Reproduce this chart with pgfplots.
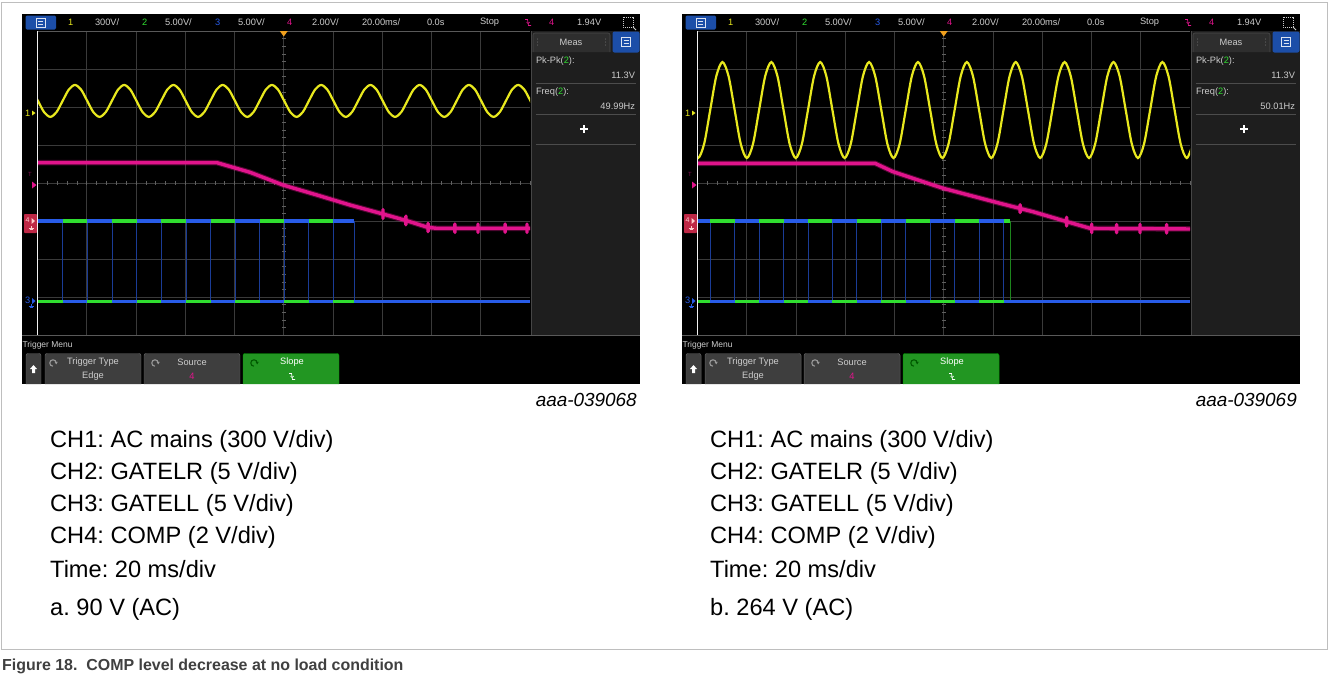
\documentclass[border=0pt]{standalone}
\usepackage{fontspec}
\setmainfont{Liberation Sans}
\usepackage{pgfplots}
\usepackage{pgfplotstable}
\pgfplotsset{compat=1.18}
\frenchspacing
\definecolor{yellowc}{RGB}{232,232,30}
\definecolor{greenc}{RGB}{48,222,48}
\definecolor{bluec}{RGB}{40,92,232}
\definecolor{magc}{RGB}{225,20,140}
\definecolor{gridc}{RGB}{58,58,58}
\definecolor{tickc}{RGB}{95,95,95}
\definecolor{panelc}{RGB}{30,30,30}
\definecolor{uigray}{RGB}{205,205,205}
\definecolor{iconblue}{RGB}{28,78,168}
\definecolor{btngray}{RGB}{62,62,62}
\definecolor{btnedge}{RGB}{100,100,100}
\definecolor{btngreen}{RGB}{34,150,34}
\definecolor{orangec}{RGB}{240,160,30}
\definecolor{redbox}{RGB}{190,40,70}
\definecolor{framec}{RGB}{190,190,190}
\definecolor{capc}{RGB}{64,64,64}
\tikzset{ui/.style={inner sep=0pt, outer sep=0pt, font=\fontsize{9.3}{10}\selectfont, text=uigray}}

% ---------- data ----------
\pgfplotstableread{
t v
0 -3.12
10.2 -3.12
10.2 nan
10.2 -1
20.3 -1
20.3 nan
20.3 -3.12
30.3 -3.12
30.3 nan
30.3 -1
40.3 -1
40.3 nan
40.3 -3.12
50.2 -3.12
50.2 nan
50.2 -1
60.3 -1
60.3 nan
60.3 -3.12
70.3 -3.12
70.3 nan
70.3 -1
80.4 -1
80.4 nan
80.4 -3.12
90.3 -3.12
90.3 nan
90.3 -1
100.2 -1
100.2 nan
100.2 -3.12
110.1 -3.12
110.1 nan
110.1 -1
120.1 -1
120.1 nan
120.1 -3.12
200 -3.12
}\AGreen
\pgfplotstableread{
t v
0 -1
10.2 -1
10.2 nan
10.2 -3.12
20.3 -3.12
20.3 nan
20.3 -1
30.3 -1
30.3 nan
30.3 -3.12
40.3 -3.12
40.3 nan
40.3 -1
50.2 -1
50.2 nan
50.2 -3.12
60.3 -3.12
60.3 nan
60.3 -1
70.3 -1
70.3 nan
70.3 -3.12
80.4 -3.12
80.4 nan
80.4 -1
90.3 -1
90.3 nan
90.3 -3.12
100.2 -3.12
100.2 nan
100.2 -1
110.1 -1
110.1 nan
110.1 -3.12
120.1 -3.12
120.1 nan
120.1 -1
128.5 -1
128.5 nan
128.5 -3.12
200 -3.12
}\ABlue
\pgfplotstableread{
t v
0 -3.12
5.16 -3.12
5.16 nan
5.16 -1
15.09 -1
15.09 nan
15.09 -3.12
25.01 -3.12
25.01 nan
25.01 -1
34.94 -1
34.94 nan
34.94 -3.12
44.86 -3.12
44.86 nan
44.86 -1
54.79 -1
54.79 nan
54.79 -3.12
64.71 -3.12
64.71 nan
64.71 -1
74.64 -1
74.64 nan
74.64 -3.12
84.56 -3.12
84.56 nan
84.56 -1
94.49 -1
94.49 nan
94.49 -3.12
104.41 -3.12
104.41 nan
104.41 -1
114.34 -1
114.34 nan
114.34 -3.12
124.26 -3.12
124.26 nan
124.26 -1
127.0 -1
127.0 nan
127.0 -3.12
200 -3.12
}\BGreen
\pgfplotstableread{
t v
0 -1
5.16 -1
5.16 nan
5.16 -3.12
15.09 -3.12
15.09 nan
15.09 -1
25.01 -1
25.01 nan
25.01 -3.12
34.94 -3.12
34.94 nan
34.94 -1
44.86 -1
44.86 nan
44.86 -3.12
54.79 -3.12
54.79 nan
54.79 -1
64.71 -1
64.71 nan
64.71 -3.12
74.64 -3.12
74.64 nan
74.64 -1
84.56 -1
84.56 nan
84.56 -3.12
94.49 -3.12
94.49 nan
94.49 -1
104.41 -1
104.41 nan
104.41 -3.12
114.34 -3.12
114.34 nan
114.34 -1
124.26 -1
124.26 nan
124.26 -3.12
200 -3.12
}\BBlue

% ---------- scope chrome ----------
\newcommand\slopesym[3]{% x y color
  \draw[#3, line width=0.7] ({#1-3},{#2-3}) -- ({#1-0.5},{#2-3}) -- ({#1+0.5},{#2+3}) -- ({#1+3},{#2+3});
  \draw[#3, line width=0.6] ({#1-1.5},{#2-0.5}) -- ({#1},{#2+1}) -- ({#1+1.8},{#2-0.5});
}
\newcommand\circarrow[3]{% x y color
  \draw[#3, line width=1.1] ({#1+3.2},{#2}) arc[start angle=0, end angle=-270, radius=3.2];
  \fill[#3] ({#1+1.6},{#2-1.2}) -- ({#1+4.8},{#2-1.2}) -- ({#1+3.2},{#2+1.4}) -- cycle;
}
\newcommand\menuicon[2]{% center x y
  \draw[white!85!iconblue, line width=0.7] ({#1-4.5},{#2-4.5}) rectangle ({#1+4.5},{#2+4.5});
  \draw[white!85!iconblue, line width=0.6] ({#1-2.5},{#2-1.3}) -- ({#1+2.5},{#2-1.3}) ({#1-2.5},{#2+1.3}) -- ({#1+2.5},{#2+1.3});
}
\newcommand\scopechrome[2]{%
\begin{scope}[shift={(#1,0)}]
  \fill[black] (22,14) rectangle (640,384);
  % top bar
  \fill[iconblue, rounded corners=1.5] (25.5,15.5) rectangle (56,29.5);
  \menuicon{40.75}{22.5}
  \node[ui, anchor=west, text=yellowc] at (68,22.5) {1};
  \node[ui, anchor=west] at (95,22.5) {300V/};
  \node[ui, anchor=west, text=greenc] at (142,22.5) {2};
  \node[ui, anchor=west] at (165,22.5) {5.00V/};
  \node[ui, anchor=west, text=bluec] at (215,22.5) {3};
  \node[ui, anchor=west] at (238,22.5) {5.00V/};
  \node[ui, anchor=west, text=magc] at (287,22.5) {4};
  \node[ui, anchor=west] at (312,22.5) {2.00V/};
  \node[ui, anchor=west] at (362,22.5) {20.00ms/};
  \node[ui, anchor=west] at (427,22.5) {0.0s};
  \node[ui, anchor=west] at (480,22.5) {Stop};
  \slopesym{528}{22.5}{magc}
  \node[ui, anchor=west, text=magc] at (549,22.5) {4};
  \node[ui, anchor=west] at (577,22.5) {1.94V};
  \draw[uigray, line width=0.6, dash pattern=on 1pt off 1pt] (623,17) rectangle (633,27);
  \draw[uigray, line width=0.8] (633,27) -- (636,30);
  % grid
  \foreach \i in {1,...,9} \draw[gridc, line width=0.7] ({37.5+49.25*\i},31) -- ({37.5+49.25*\i},335);
  \foreach \j in {1,...,7} \draw[gridc, line width=0.7] (37.5,{31+38*\j}) -- (530,{31+38*\j});
  \foreach \k in {0,...,50} \draw[tickc, line width=0.6] ({37.5+9.85*\k},181) -- ({37.5+9.85*\k},185);
  \foreach \k in {0,...,40} \draw[tickc, line width=0.6] (281.75,{31+7.6*\k}) -- (285.75,{31+7.6*\k});
  \draw[gray!70!black, line width=0.8] (37.5,31) -- (530,31);
  \draw[gray!70!black, line width=0.8] (22,335.5) -- (640,335.5);
  % right panel
  \fill[panelc] (531.5,31) rectangle (640,335);
  \draw[gray!55!black, line width=0.8] (531.5,31) -- (531.5,335);
  \filldraw[fill=black!82, draw=gray!60!black, line width=0.6, rounded corners=2] (533,52) -- (533,33) -- (610,33) -- (610,52);
  \node[ui] at (571,42.5) {Meas};
  \foreach \yy in {39,42,45} {\fill[gray] (537.5,\yy) circle (0.5); \fill[gray] (605.5,\yy) circle (0.5);}
  \fill[iconblue, rounded corners=2] (612.5,31.5) rectangle (639.5,52.5);
  \menuicon{626}{42}
  \node[ui, anchor=west] at (536,61) {Pk-Pk(\textcolor{greenc}{2}):};
  \node[ui, anchor=east] at (635,75) {11.3V};
  \draw[gray!60!black, line width=0.6] (536,83) -- (636,83);
  \node[ui, anchor=west] at (536,92) {Freq(\textcolor{greenc}{2}):};
  \node[ui, anchor=east] at (635,106.5) {#2};
  \draw[gray!60!black, line width=0.6] (536,114) -- (636,114);
  \draw[white, line width=1.8] (580,129) -- (588,129) (584,125) -- (584,133);
  \draw[gray!60!black, line width=0.6] (536,144) -- (636,144);
  % channel markers
  \node[ui, anchor=west, text=yellowc] at (25,113) {1};
  \fill[yellowc] (32,110.5) -- (35.5,113) -- (32,115.5) -- cycle;
  \node[ui, anchor=west, text=magc!60!black, font=\fontsize{6}{7}\selectfont] at (28,174) {T};
  \fill[magc] (32,181.5) -- (36.5,185) -- (32,188.5) -- cycle;
  \fill[redbox, rounded corners=1] (24,214) rectangle (37,233);
  \node[ui, anchor=west, text=pink!80!white, font=\fontsize{7}{8}\selectfont] at (25.5,220) {4};
  \fill[pink!80!white] (31.5,218) -- (35,221) -- (31.5,224) -- cycle;
  \draw[pink!80!white, line width=0.5] (31,226) -- (31,228) (28.5,228) -- (33.5,228) (29.5,229.5) -- (32.5,229.5);
  \node[ui, anchor=west, text=bluec] at (25,300) {3};
  \fill[bluec] (32,298) -- (35.5,301) -- (32,304) -- cycle;
  \draw[bluec, line width=0.5] (31,304) -- (31,306) (28.5,306) -- (33.5,306) (29.5,307.5) -- (32.5,307.5);
  % bottom menu
  \node[ui, anchor=west, font=\fontsize{8.5}{10}\selectfont] at (22.5,345.5) {Trigger Menu};
  \filldraw[fill=btngray, draw=btnedge, line width=0.5, rounded corners=2] (26,384) -- (26,353.5) -- (41,353.5) -- (41,384);
  \fill[white] (33.5,365) -- (37,369) -- (35,369) -- (35,373) -- (32,373) -- (32,369) -- (30,369) -- cycle;
  \filldraw[fill=btngray, draw=btnedge, line width=0.5, rounded corners=2] (45,384) -- (45,353.5) -- (141,353.5) -- (141,384);
  \circarrow{53}{363}{gray!80!white}
  \node[ui] at (93,362.5) {Trigger Type};
  \node[ui] at (93,376.5) {Edge};
  \filldraw[fill=btngray, draw=btnedge, line width=0.5, rounded corners=2] (144,384) -- (144,353.5) -- (240,353.5) -- (240,384);
  \circarrow{155}{363}{gray!80!white}
  \node[ui] at (192,362.5) {Source};
  \node[ui, text=magc] at (192,376.5) {4};
  \filldraw[fill=btngreen, draw=green!60!black, line width=0.5, rounded corners=2] (243,384) -- (243,353.5) -- (339,353.5) -- (339,384);
  \circarrow{254}{363}{green!35!black}
  \node[ui, text=white] at (292,362.5) {Slope};
  \slopesym{292}{376.5}{white}
\end{scope}}

\newcommand\scopeover[1]{%
\begin{scope}[shift={(#1,0)}]
  \draw[white!90!gray, line width=1] (37.5,31) -- (37.5,335);
  \fill[orangec] (279.75,31) -- (287.75,31) -- (283.75,36.5) -- cycle;
\end{scope}}

\begin{document}
\begin{tikzpicture}
\path[use as bounding box] (0,0) rectangle (1328bp,-684bp);
\fill[white] (0,0) rectangle (1328bp,-684bp);
\begin{scope}[x=1bp,y=-1bp]
  \draw[framec, line width=1] (1,2.5) -- (1327,2.5) -- (1327,649) -- (1,649) -- cycle;
  \scopechrome{0}{49.99Hz}
  \scopechrome{660}{50.01Hz}
  % texts
  \node[anchor=east, inner sep=0pt, font=\fontsize{19}{20}\selectfont\itshape] at (637,400) {aaa-039068};
  \node[anchor=east, inner sep=0pt, font=\fontsize{19}{20}\selectfont\itshape] at (1297,400) {aaa-039069};
  \foreach \xx/\lab in {50/{a. 90 V (AC)}, 710/{b. 264 V (AC)}} {
    \node[anchor=west, inner sep=0pt, font=\fontsize{23.7}{26}\selectfont] at (\xx,441) {CH1: AC mains (300 V/div)};
    \node[anchor=west, inner sep=0pt, font=\fontsize{23.7}{26}\selectfont] at (\xx,473) {CH2: GATELR (5 V/div)};
    \node[anchor=west, inner sep=0pt, font=\fontsize{23.7}{26}\selectfont] at (\xx,505) {CH3: GATELL (5 V/div)};
    \node[anchor=west, inner sep=0pt, font=\fontsize{23.7}{26}\selectfont] at (\xx,537) {CH4: COMP (2 V/div)};
    \node[anchor=west, inner sep=0pt, font=\fontsize{23.7}{26}\selectfont] at (\xx,569) {Time: 20 ms/div};
    \node[anchor=west, inner sep=0pt, font=\fontsize{23.7}{26}\selectfont] at (\xx,609) {\lab};
  }
  \node[anchor=west, inner sep=0pt, text=capc, font=\fontsize{16}{19}\selectfont\bfseries] at (2,666) {Figure 18.\ \ COMP level decrease at no load condition};
\end{scope}

% ---------- scope 1 data ----------
\begin{axis}[at={(37.5bp,-335bp)}, anchor=south west, scale only axis, width=492.5bp, height=304bp,
  xmin=0, xmax=200, ymin=-4, ymax=4, hide axis, clip=true]
\addplot[yellowc, line width=2.2bp, smooth] coordinates {
(-2.3,2.457)
(0.2,2.16) (2.7,1.863) (5.2,1.74) (7.7,1.863) (10.2,2.16) (12.7,2.457) (15.2,2.58) (17.7,2.457)
(20.2,2.16) (22.7,1.863) (25.2,1.74) (27.7,1.863) (30.2,2.16) (32.7,2.457) (35.2,2.58) (37.7,2.457)
(40.2,2.16) (42.7,1.863) (45.2,1.74) (47.7,1.863) (50.2,2.16) (52.7,2.457) (55.2,2.58) (57.7,2.457)
(60.2,2.16) (62.7,1.863) (65.2,1.74) (67.7,1.863) (70.2,2.16) (72.7,2.457) (75.2,2.58) (77.7,2.457)
(80.2,2.16) (82.7,1.863) (85.2,1.74) (87.7,1.863) (90.2,2.16) (92.7,2.457) (95.2,2.58) (97.7,2.457)
(100.2,2.16) (102.7,1.863) (105.2,1.74) (107.7,1.863) (110.2,2.16) (112.7,2.457) (115.2,2.58) (117.7,2.457)
(120.2,2.16) (122.7,1.863) (125.2,1.74) (127.7,1.863) (130.2,2.16) (132.7,2.457) (135.2,2.58) (137.7,2.457)
(140.2,2.16) (142.7,1.863) (145.2,1.74) (147.7,1.863) (150.2,2.16) (152.7,2.457) (155.2,2.58) (157.7,2.457)
(160.2,2.16) (162.7,1.863) (165.2,1.74) (167.7,1.863) (170.2,2.16) (172.7,2.457) (175.2,2.58) (177.7,2.457)
(180.2,2.16) (182.7,1.863) (185.2,1.74) (187.7,1.863) (190.2,2.16) (192.7,2.457) (195.2,2.58) (197.7,2.457)
(200.2,2.16) (202.7,1.863)};
\addplot[magc, opacity=0.35, line width=5.5bp, line join=round] coordinates {
(0,0.534) (72.9,0.534) (86.3,0.282) (99.7,-0.053) (113.5,-0.316) (126.9,-0.579) (140.3,-0.816) (151.3,-1.018) (158.6,-1.17) (162.2,-1.192) (200,-1.192)};
\addplot[magc, line width=3.4bp, line join=round] coordinates {
(0,0.534) (72.9,0.534) (86.3,0.282) (99.7,-0.053) (113.5,-0.316) (126.9,-0.579)
(140.3,-0.816) (140.3,-0.70) (140.3,-0.93) (140.3,-0.816)
(149.6,-0.985) (149.6,-0.87) (149.6,-1.10) (149.6,-0.985)
(158.6,-1.17) (158.6,-1.06) (158.6,-1.28) (158.6,-1.17)
(162.2,-1.192)
(169.5,-1.192) (169.5,-1.08) (169.5,-1.30) (169.5,-1.192)
(178.9,-1.192) (178.9,-1.08) (178.9,-1.30) (178.9,-1.192)
(189.9,-1.192) (189.9,-1.08) (189.9,-1.30) (189.9,-1.192)
(198.8,-1.192) (198.8,-1.08) (198.8,-1.30) (198.8,-1.192)
(200,-1.192)};
\addplot[greenc!60!black, line width=0.8bp, unbounded coords=discard] table[x=t,y=v] {\AGreen};
\addplot[bluec!65!black, line width=0.8bp, unbounded coords=discard] table[x=t,y=v] {\ABlue};
\addplot[greenc, line width=3.8bp, unbounded coords=jump] table[x=t,y=v] {\AGreen};
\addplot[bluec, line width=3.8bp, unbounded coords=jump] table[x=t,y=v] {\ABlue};
\end{axis}

% ---------- scope 2 data ----------
\begin{axis}[at={(697.5bp,-335bp)}, anchor=south west, scale only axis, width=492.5bp, height=304bp,
  xmin=0, xmax=200, ymin=-4, ymax=4, hide axis, clip=true]
\addplot[magc, opacity=0.35, line width=5.5bp, line join=round] coordinates {
(0,0.518) (72.1,0.518) (79.4,0.297) (99.7,-0.139) (122.8,-0.534) (136.2,-0.755) (150,-1.018) (159.4,-1.192) (200,-1.21)};
\addplot[magc, line width=3.4bp, line join=round] coordinates {
(0,0.518) (72.1,0.518) (79.4,0.297) (99.7,-0.139) (122.8,-0.534)
(131.0,-0.67) (131.0,-0.57) (131.0,-0.78) (131.0,-0.67)
(136.2,-0.755)
(149.9,-1.016) (149.9,-0.90) (149.9,-1.13) (149.9,-1.016)
(159.4,-1.192)
(160.1,-1.195) (160.1,-1.08) (160.1,-1.31) (160.1,-1.195)
(170.2,-1.20) (170.2,-1.09) (170.2,-1.31) (170.2,-1.20)
(179.7,-1.20) (179.7,-1.09) (179.7,-1.31) (179.7,-1.20)
(190.5,-1.205) (190.5,-1.09) (190.5,-1.32) (190.5,-1.205)
(200,-1.21)};
\addplot[yellowc, line width=2.2bp, smooth] coordinates {
(-2.28,1.027)
(0.2,0.657) (2.68,1.027) (5.16,1.92) (7.64,2.813) (10.13,3.183) (12.61,2.813) (15.09,1.92) (17.57,1.027)
(20.05,0.657) (22.53,1.027) (25.01,1.92) (27.49,2.813) (29.98,3.183) (32.46,2.813) (34.94,1.92) (37.42,1.027)
(39.9,0.657) (42.38,1.027) (44.86,1.92) (47.34,2.813) (49.83,3.183) (52.31,2.813) (54.79,1.92) (57.27,1.027)
(59.75,0.657) (62.23,1.027) (64.71,1.92) (67.19,2.813) (69.68,3.183) (72.16,2.813) (74.64,1.92) (77.12,1.027)
(79.6,0.657) (82.08,1.027) (84.56,1.92) (87.04,2.813) (89.53,3.183) (92.01,2.813) (94.49,1.92) (96.97,1.027)
(99.45,0.657) (101.93,1.027) (104.41,1.92) (106.89,2.813) (109.38,3.183) (111.86,2.813) (114.34,1.92) (116.82,1.027)
(119.3,0.657) (121.78,1.027) (124.26,1.92) (126.74,2.813) (129.23,3.183) (131.71,2.813) (134.19,1.92) (136.67,1.027)
(139.15,0.657) (141.63,1.027) (144.11,1.92) (146.59,2.813) (149.08,3.183) (151.56,2.813) (154.04,1.92) (156.52,1.027)
(159.0,0.657) (161.48,1.027) (163.96,1.92) (166.44,2.813) (168.93,3.183) (171.41,2.813) (173.89,1.92) (176.37,1.027)
(178.85,0.657) (181.33,1.027) (183.81,1.92) (186.29,2.813) (188.78,3.183) (191.26,2.813) (193.74,1.92) (196.22,1.027)
(198.7,0.657) (201.18,1.027)};
\addplot[greenc!60!black, line width=0.8bp, unbounded coords=discard] table[x=t,y=v] {\BGreen};
\addplot[bluec!65!black, line width=0.8bp, unbounded coords=discard] table[x=t,y=v] {\BBlue};
\addplot[greenc, line width=3.8bp, unbounded coords=jump] table[x=t,y=v] {\BGreen};
\addplot[bluec, line width=3.8bp, unbounded coords=jump] table[x=t,y=v] {\BBlue};
\end{axis}

\begin{scope}[x=1bp,y=-1bp]
  \scopeover{0}
  \scopeover{660}
\end{scope}
\end{tikzpicture}
\end{document}
